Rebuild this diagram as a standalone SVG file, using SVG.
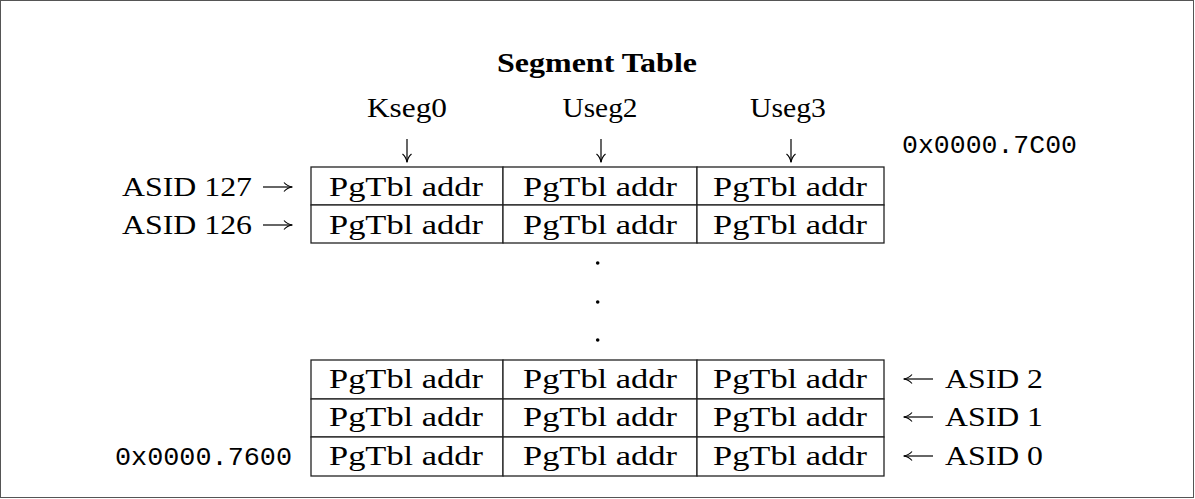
<svg xmlns="http://www.w3.org/2000/svg" width="1195" height="499" viewBox="0 0 1195 499">
  <style>
    .txt { font-family: "Liberation Serif", "Times New Roman", serif; font-size: 27.5px; fill: #000; }
    .ttl { font-family: "Liberation Serif", "Times New Roman", serif; font-size: 27px; font-weight: bold; fill: #000; }
    .mono { font-family: "Liberation Mono", "Courier New", monospace; font-size: 26.5px; fill: #000; }
    .cell { fill: #fff; stroke: #222; stroke-width: 1.3; }
    .arr { fill: none; stroke: #000; stroke-width: 1.2; marker-end: url(#head); }
  </style>
  <defs>
    <marker id="head" viewBox="0 0 10 10" refX="9" refY="5" markerWidth="10" markerHeight="10" markerUnits="userSpaceOnUse" orient="auto">
      <path d="M1,0.5 Q4,4.2 9.5,5 Q4,5.8 1,9.5" fill="none" stroke="#000" stroke-width="1.1"/>
    </marker>
  </defs>

  <!-- outer frame -->
  <rect x="0.5" y="0.5" width="1193" height="497" fill="#fff" stroke="#555" stroke-width="1"/>

  <g id="title">
    <text class="ttl" x="597" y="72" text-anchor="middle" textLength="200" lengthAdjust="spacingAndGlyphs">Segment Table</text>
  </g>

  <g id="column-headers">
    <text class="txt" x="407" y="117" text-anchor="middle" textLength="80" lengthAdjust="spacingAndGlyphs">Kseg0</text>
    <text class="txt" x="600" y="117" text-anchor="middle" textLength="75" lengthAdjust="spacingAndGlyphs">Useg2</text>
    <text class="txt" x="788" y="117" text-anchor="middle" textLength="76" lengthAdjust="spacingAndGlyphs">Useg3</text>
  </g>

  <!-- entry for ASID 127 -->
  <g id="row-asid127">
    <rect class="cell" x="311" y="167" width="192" height="38"/>
    <rect class="cell" x="503" y="167" width="194" height="38"/>
    <rect class="cell" x="697" y="167" width="187" height="38"/>
    <text class="txt" x="406" y="196" text-anchor="middle" textLength="154" lengthAdjust="spacingAndGlyphs">PgTbl addr</text>
    <text class="txt" x="600" y="196" text-anchor="middle" textLength="154" lengthAdjust="spacingAndGlyphs">PgTbl addr</text>
    <text class="txt" x="790" y="196" text-anchor="middle" textLength="154" lengthAdjust="spacingAndGlyphs">PgTbl addr</text>
  </g>

  <!-- entry for ASID 126 -->
  <g id="row-asid126">
    <rect class="cell" x="311" y="205" width="192" height="38"/>
    <rect class="cell" x="503" y="205" width="194" height="38"/>
    <rect class="cell" x="697" y="205" width="187" height="38"/>
    <text class="txt" x="406" y="234" text-anchor="middle" textLength="154" lengthAdjust="spacingAndGlyphs">PgTbl addr</text>
    <text class="txt" x="600" y="234" text-anchor="middle" textLength="154" lengthAdjust="spacingAndGlyphs">PgTbl addr</text>
    <text class="txt" x="790" y="234" text-anchor="middle" textLength="154" lengthAdjust="spacingAndGlyphs">PgTbl addr</text>
  </g>

  <!-- vertical ellipsis -->
  <g id="ellipsis" fill="#000">
    <circle cx="597.7" cy="263" r="1.8"/>
    <circle cx="597.7" cy="302" r="1.8"/>
    <circle cx="597.7" cy="340" r="1.8"/>
  </g>

  <!-- entry for ASID 2 -->
  <g id="row-asid2">
    <rect class="cell" x="311" y="360" width="192" height="39"/>
    <rect class="cell" x="503" y="360" width="194" height="39"/>
    <rect class="cell" x="697" y="360" width="187" height="39"/>
    <text class="txt" x="406" y="388" text-anchor="middle" textLength="154" lengthAdjust="spacingAndGlyphs">PgTbl addr</text>
    <text class="txt" x="600" y="388" text-anchor="middle" textLength="154" lengthAdjust="spacingAndGlyphs">PgTbl addr</text>
    <text class="txt" x="790" y="388" text-anchor="middle" textLength="154" lengthAdjust="spacingAndGlyphs">PgTbl addr</text>
  </g>

  <!-- entry for ASID 1 -->
  <g id="row-asid1">
    <rect class="cell" x="311" y="399" width="192" height="38"/>
    <rect class="cell" x="503" y="399" width="194" height="38"/>
    <rect class="cell" x="697" y="399" width="187" height="38"/>
    <text class="txt" x="406" y="426" text-anchor="middle" textLength="154" lengthAdjust="spacingAndGlyphs">PgTbl addr</text>
    <text class="txt" x="600" y="426" text-anchor="middle" textLength="154" lengthAdjust="spacingAndGlyphs">PgTbl addr</text>
    <text class="txt" x="790" y="426" text-anchor="middle" textLength="154" lengthAdjust="spacingAndGlyphs">PgTbl addr</text>
  </g>

  <!-- entry for ASID 0 -->
  <g id="row-asid0">
    <rect class="cell" x="311" y="437" width="192" height="39"/>
    <rect class="cell" x="503" y="437" width="194" height="39"/>
    <rect class="cell" x="697" y="437" width="187" height="39"/>
    <text class="txt" x="406" y="465" text-anchor="middle" textLength="154" lengthAdjust="spacingAndGlyphs">PgTbl addr</text>
    <text class="txt" x="600" y="465" text-anchor="middle" textLength="154" lengthAdjust="spacingAndGlyphs">PgTbl addr</text>
    <text class="txt" x="790" y="465" text-anchor="middle" textLength="154" lengthAdjust="spacingAndGlyphs">PgTbl addr</text>
  </g>

  <g id="addresses">
    <text class="mono" x="902" y="153" textLength="175" lengthAdjust="spacingAndGlyphs">0x0000.7C00</text>
    <text class="mono" x="115" y="465" textLength="177" lengthAdjust="spacingAndGlyphs">0x0000.7600</text>
  </g>

  <g id="asid-labels">
    <text class="txt" x="122" y="196" textLength="130" lengthAdjust="spacingAndGlyphs">ASID 127</text>
    <text class="txt" x="122" y="234" textLength="130" lengthAdjust="spacingAndGlyphs">ASID 126</text>
    <text class="txt" x="945" y="388" textLength="98" lengthAdjust="spacingAndGlyphs">ASID 2</text>
    <text class="txt" x="945" y="426" textLength="98" lengthAdjust="spacingAndGlyphs">ASID 1</text>
    <text class="txt" x="945" y="465" textLength="98" lengthAdjust="spacingAndGlyphs">ASID 0</text>
  </g>

  <g id="connectors">
    <!-- column pointers -->
    <path class="arr" d="M407,139 V162"/>
    <path class="arr" d="M601,139 V162"/>
    <path class="arr" d="M791,139 V162"/>
    <!-- row pointers -->
    <path class="arr" d="M263,187 H292"/>
    <path class="arr" d="M263,225 H292"/>
    <path class="arr" d="M933,379 H904"/>
    <path class="arr" d="M933,417 H904"/>
    <path class="arr" d="M933,456 H904"/>
  </g>
</svg>
